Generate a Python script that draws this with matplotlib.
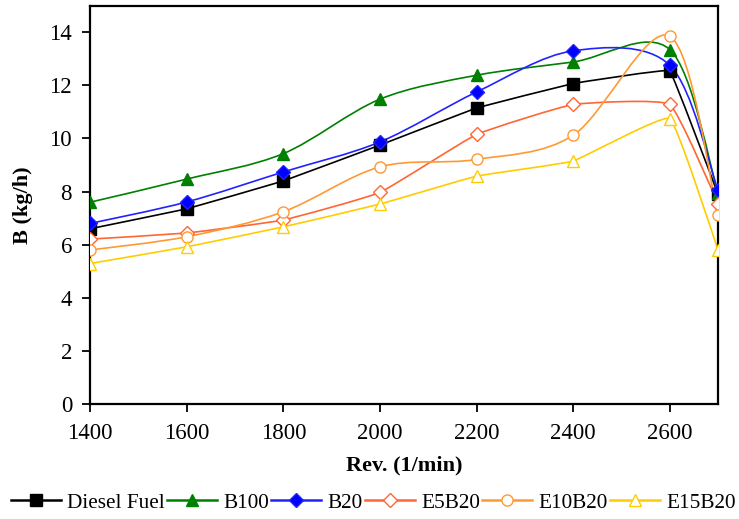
import numpy as np
import matplotlib.pyplot as plt
from matplotlib.path import Path
from matplotlib.patches import PathPatch

plt.rcParams['font.family'] = ['Liberation Serif', 'DejaVu Serif']

rev = [1400, 1600, 1800, 2000, 2200, 2400, 2600, 2700]
diesel = [6.6, 7.35, 8.4, 9.75, 11.15, 12.07, 12.55, 7.9]
b100 = [7.6, 8.47, 9.43, 11.48, 12.38, 12.88, 13.35, 7.95]
b20 = [6.8, 7.61, 8.74, 9.87, 11.75, 13.3, 12.76, 8.05]
e5b20 = [6.21, 6.44, 6.93, 7.97, 10.15, 11.28, 11.28, 7.55]
e10b20 = [5.8, 6.3, 7.24, 8.93, 9.21, 10.12, 13.85, 7.11]
e15b20 = [5.29, 5.92, 6.67, 7.53, 8.58, 9.15, 10.75, 5.8]

# name, values, line colour, marker, face colour, smoothing
series = [
    ("Diesel Fuel", diesel, "black", "s", "black", 0.02),
    ("B100", b100, "#008000", "^", "#008000", 0.16),
    ("B20", b20, "#2222ff", "D", "#0000ff", 0.16),
    ("E5B20", e5b20, "#ff6633", "D", "white", 0.06),
    ("E10B20", e10b20, "#ff9933", "o", "white", 0.16),
    ("E15B20", e15b20, "#ffcc00", "^", "white", 0.05),
]


def smooth_path(x, y, t):
    # smoothed line like the spreadsheet one: cubic Bezier between the points
    pts = np.column_stack([x, y]).astype(float)
    n = len(pts)
    verts = [pts[0]]
    codes = [Path.MOVETO]
    for i in range(n - 1):
        p0 = pts[i - 1] if i > 0 else pts[i]
        p1 = pts[i]
        p2 = pts[i + 1]
        p3 = pts[i + 2] if i + 2 < n else pts[i + 1]
        c1 = p1 + (p2 - p0) * t
        c2 = p2 - (p3 - p1) * t
        verts += [c1, c2, p2]
        codes += [Path.CURVE4] * 3
    return Path(verts, codes)


fig = plt.figure(figsize=(7.39, 5.19), dpi=100)
ax = fig.add_axes([0.122, 0.2216, 0.8496, 0.7674])

handles = []
for name, vals, col, mk, fc, t in series:
    patch = PathPatch(smooth_path(rev, vals, t), facecolor='none', edgecolor=col, lw=1.2)
    ax.add_patch(patch)
    ax.plot(rev, vals, linestyle='none', marker=mk, color=col,
            markerfacecolor=fc, markeredgecolor=col, markersize=8 if mk != "D" else 7,
            markeredgewidth=1.0, zorder=3)
    h, = ax.plot([], [], color=col, lw=1.8, marker=mk, markerfacecolor=fc,
                 markeredgecolor=col, markersize=8 if mk != "D" else 7)
    handles.append((h, name))

ax.set_xlim(1400, 2700)
ax.set_ylim(0, 15)
ax.set_xticks([1400, 1600, 1800, 2000, 2200, 2400, 2600])
ax.set_yticks([0, 2, 4, 6, 8, 10, 12, 14])
ax.tick_params(direction='out', length=6, width=1.3, labelsize=16.5)
ax.tick_params(axis='x', pad=8)
ax.tick_params(axis='y', pad=7)
for s in ax.spines.values():
    s.set_linewidth(1.6)

ax.set_xlabel("Rev. (1/min)", fontsize=16, fontweight='bold', labelpad=8)
ax.set_ylabel("B (kg/h)", fontsize=16, fontweight='bold', labelpad=12)

fig.legend([h for h, _ in handles], [n for _, n in handles], loc='center',
           bbox_to_anchor=(0.505, 0.031), ncol=6, frameon=False, fontsize=15.3,
           handlelength=2.35, handletextpad=0.3, columnspacing=0.1,
           borderaxespad=0, borderpad=0)

fig.savefig("out.png", dpi=100)
